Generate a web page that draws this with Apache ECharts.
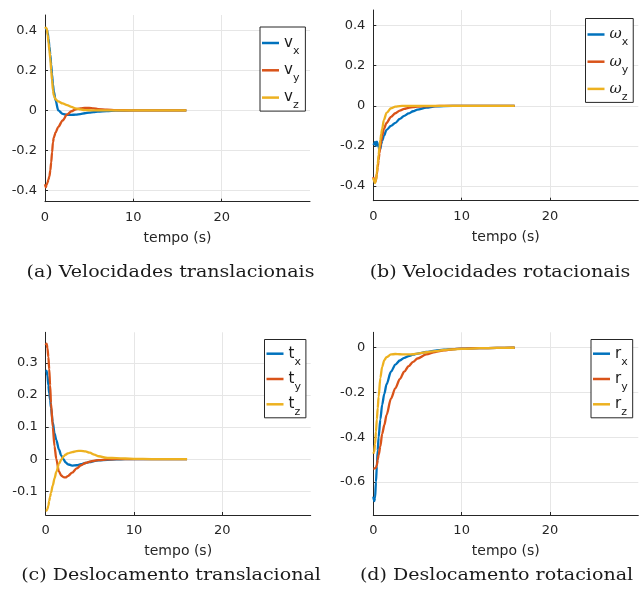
<!DOCTYPE html>
<html>
<head>
<meta charset="utf-8">
<script src="https://cdn.jsdelivr.net/npm/echarts@6/dist/echarts.min.js"></script>
<style>
  html, body { margin: 0; padding: 0; background: #fff; }
  #main { width: 639px; height: 594px; }
</style>
</head>
<body>
<div id="main"></div>
<script>
// (a) velocidades translacionais
const timeA = [0, 0.1, 0.2, 0.3, 0.4, 0.5, 0.6, 0.7, 0.8, 0.9, 1.0, 1.2, 1.5, 2, 2.5, 3, 3.5, 4, 4.5, 5, 5.5, 6, 7, 8, 10, 12, 14, 16];
const vx = [0.41, 0.41, 0.405, 0.39, 0.36, 0.32, 0.28, 0.23, 0.18, 0.13, 0.095, 0.05, 0.0, -0.017, -0.022, -0.022, -0.021, -0.018, -0.014, -0.011, -0.008, -0.006, -0.003, -0.001, 0, 0, 0, 0];
const vy = [-0.37, -0.385, -0.37, -0.36, -0.345, -0.33, -0.3, -0.26, -0.21, -0.16, -0.135, -0.11, -0.082, -0.05, -0.02, -0.004, 0.006, 0.01, 0.013, 0.013, 0.01, 0.007, 0.004, 0.002, 0, 0, 0, 0];
const vz = [0.41, 0.415, 0.41, 0.38, 0.34, 0.3, 0.26, 0.2, 0.15, 0.1, 0.075, 0.055, 0.045, 0.035, 0.027, 0.018, 0.01, 0.005, 0.002, 0.001, 0, 0, 0, 0, 0, 0, 0, 0];

// (b) velocidades rotacionais
const timeB = [0, 0.1, 0.2, 0.3, 0.4, 0.5, 0.6, 0.7, 0.8, 0.9, 1.0, 1.2, 1.5, 2, 2.5, 3, 3.5, 4, 4.5, 5, 6, 7, 8, 10, 12, 14, 16];
const wx = [-0.195, -0.19, -0.18, -0.2, -0.178, -0.19, -0.205, -0.22, -0.215, -0.19, -0.175, -0.15, -0.12, -0.1, -0.085, -0.065, -0.05, -0.038, -0.027, -0.019, -0.009, -0.003, -0.001, 0, 0, 0, 0];
const wy = [-0.355, -0.37, -0.38, -0.37, -0.34, -0.305, -0.27, -0.235, -0.2, -0.175, -0.15, -0.115, -0.085, -0.055, -0.037, -0.024, -0.015, -0.01, -0.006, -0.004, -0.002, -0.001, 0, 0, 0, 0, 0];
const wz = [-0.36, -0.375, -0.385, -0.37, -0.335, -0.29, -0.245, -0.205, -0.17, -0.14, -0.115, -0.07, -0.035, -0.012, -0.004, -0.001, 0, 0, 0, 0, 0, 0, 0, 0, 0, 0, 0];

// (c) deslocamento translacional
const timeC = [0, 0.1, 0.2, 0.3, 0.4, 0.5, 0.6, 0.8, 1.0, 1.2, 1.5, 1.75, 2, 2.25, 2.5, 3, 3.5, 4, 4.5, 5, 5.5, 6, 7, 8, 9, 10, 12, 14, 16];
const tx = [0.277, 0.275, 0.26, 0.23, 0.205, 0.185, 0.16, 0.115, 0.08, 0.06, 0.03, 0.012, 0.0, -0.01, -0.016, -0.02, -0.019, -0.016, -0.012, -0.009, -0.006, -0.004, -0.002, -0.001, 0, 0, 0, 0, 0];
const ty = [0.355, 0.36, 0.345, 0.318, 0.28, 0.23, 0.175, 0.1, 0.04, 0.0, -0.038, -0.051, -0.056, -0.057, -0.053, -0.042, -0.029, -0.019, -0.012, -0.008, -0.005, -0.003, -0.001, 0, 0, 0, 0, 0, 0];
const tz = [-0.16, -0.16, -0.155, -0.145, -0.13, -0.117, -0.105, -0.082, -0.06, -0.04, -0.015, -0.002, 0.008, 0.014, 0.018, 0.022, 0.025, 0.026, 0.024, 0.02, 0.014, 0.009, 0.004, 0.003, 0.002, 0.001, 0, 0, 0];

// (d) deslocamento rotacional
const timeD = [0, 0.1, 0.2, 0.3, 0.4, 0.5, 0.6, 0.8, 1.0, 1.25, 1.5, 2, 2.5, 3, 3.5, 4, 4.5, 5, 6, 7, 8, 9, 10, 12, 14, 16];
const rx = [-0.665, -0.685, -0.67, -0.6, -0.53, -0.46, -0.4, -0.32, -0.255, -0.205, -0.163, -0.107, -0.075, -0.057, -0.045, -0.037, -0.031, -0.026, -0.019, -0.013, -0.009, -0.006, -0.004, -0.002, -0.001, 0];
const ry = [-0.54, -0.54, -0.538, -0.535, -0.525, -0.5, -0.48, -0.44, -0.385, -0.345, -0.3, -0.227, -0.18, -0.14, -0.107, -0.082, -0.063, -0.048, -0.03, -0.019, -0.012, -0.007, -0.004, -0.002, -0.001, 0];
const rz = [-0.473, -0.465, -0.43, -0.375, -0.32, -0.27, -0.22, -0.135, -0.085, -0.055, -0.042, -0.03, -0.028, -0.029, -0.03, -0.03, -0.029, -0.026, -0.02, -0.015, -0.01, -0.007, -0.005, -0.002, -0.001, 0];

const captions = ['(a) Velocidades translacionais', '(b) Velocidades rotacionais', '(c) Deslocamento translacional', '(d) Deslocamento rotacional'];
const xLabel = 'tempo (s)';

const colors = ['#0072BD', '#D95319', '#EDB120'];
const axisColor = '#262626';
const gridColor = '#e6e6e6';

const chartDom = document.getElementById('main');
const myChart = echarts.init(chartDom);

// posicao de cada subplot (px)
const grids = [
  { left: 45, top: 15, width: 265, height: 186.7 },
  { left: 373.3, top: 10, width: 265, height: 190.7 },
  { left: 45.7, top: 332.3, width: 265, height: 182.7 },
  { left: 373.3, top: 332.3, width: 265, height: 182.7 }
];
const yRanges = [[-0.457, 0.478], [-0.473, 0.478], [-0.174, 0.395], [-0.747, 0.069]];

const panels = [
  { t: timeA, ys: [vx, vy, vz], names: ['vx', 'vy', 'vz'] },
  { t: timeB, ys: [wx, wy, wz], names: ['wx', 'wy', 'wz'] },
  { t: timeC, ys: [tx, ty, tz], names: ['tx', 'ty', 'tz'] },
  { t: timeD, ys: [rx, ry, rz], names: ['rx', 'ry', 'rz'] }
];

const xAxes = grids.map((g, i) => ({
  type: 'value', gridIndex: i, min: 0, max: 30, interval: 10,
  name: xLabel, nameLocation: 'middle', nameGap: 29.5,
  nameTextStyle: { fontFamily: 'DejaVu Sans', fontSize: 14, color: axisColor },
  axisLine: { onZero: false, lineStyle: { color: axisColor, width: 1 } },
  axisTick: { inside: true, length: 3, lineStyle: { color: axisColor } },
  axisLabel: { fontFamily: 'DejaVu Sans', fontSize: 13, color: axisColor, margin: 9, showMaxLabel: false },
  splitLine: { show: true, showMaxLine: false, lineStyle: { color: gridColor } }
}));

const yAxes = grids.map((g, i) => ({
  type: 'value', gridIndex: i, min: yRanges[i][0], max: yRanges[i][1], splitNumber: 5,
  axisLine: { show: true, lineStyle: { color: axisColor, width: 1 } },
  axisTick: { show: true, inside: true, length: 3, lineStyle: { color: axisColor } },
  axisLabel: { fontFamily: 'DejaVu Sans', fontSize: 13, color: axisColor, margin: 8, showMinLabel: false, showMaxLabel: false },
  splitLine: { show: true, showMinLine: false, showMaxLine: false, lineStyle: { color: gridColor } }
}));

const series = [];
panels.forEach((p, i) => {
  p.ys.forEach((ys, k) => {
    series.push({
      name: p.names[k], type: 'line', xAxisIndex: i, yAxisIndex: i,
      data: p.t.map((t, j) => [t, ys[j]]),
      showSymbol: false, smooth: 0.3, smoothMonotone: 'x',
      lineStyle: { width: 2.3, color: colors[k] }, itemStyle: { color: colors[k] },
      emphasis: { disabled: true }
    });
  });
});

const rich = {
  m: { fontFamily: 'DejaVu Sans', fontSize: 15, color: '#1a1a1a' },
  w: { fontFamily: 'DejaVu Serif', fontStyle: 'italic', fontSize: 15, color: '#1a1a1a' },
  s: { fontFamily: 'DejaVu Sans', fontSize: 11, color: '#1a1a1a', padding: [16, 0, 0, 0] }
};
const legendText = name => {
  const main = name[0] === 'w' ? '{w|ω}' : '{m|' + name[0] + '}';
  return main + '{s|' + name[1] + '}';
};
const legendPos = [
  { left: 260, top: 27, padding: [8.5, 6, 0, 2], itemGap: 6.3 },
  { left: 585.5, top: 18.5, padding: [8.5, 5, 0, 2], itemGap: 6.2 },
  { left: 264.5, top: 339.5, padding: [6.7, 5, 0, 2], itemGap: 4.3 },
  { left: 591, top: 339.5, padding: [6.7, 5, 0, 2], itemGap: 4.3 }
];
const legends = panels.map((p, i) => Object.assign({
  orient: 'vertical', data: p.names, selectedMode: false,
  icon: 'rect', itemWidth: 17, itemHeight: 2.5,
  borderColor: axisColor, borderWidth: 1, backgroundColor: '#fff',
  formatter: legendText, textStyle: { rich: rich }
}, legendPos[i]));

// legendas das figuras (texto serifado, um pouco alargado como no original)
const capX = [170.5, 500, 171, 496.5];
const capY = [273, 273, 576, 576];
const graphics = captions.map((c, i) => ({
  type: 'text', x: capX[i], y: capY[i], scaleX: 1.19,
  style: { text: c, font: '16px "DejaVu Serif"', fill: '#1a1a1a', align: 'center', verticalAlign: 'middle' }
}));

const option = {
  backgroundColor: '#fff',
  animation: false,
  graphic: graphics,
  legend: legends,
  grid: grids,
  xAxis: xAxes,
  yAxis: yAxes,
  series: series
};
option && myChart.setOption(option);
</script>
</body>
</html>
